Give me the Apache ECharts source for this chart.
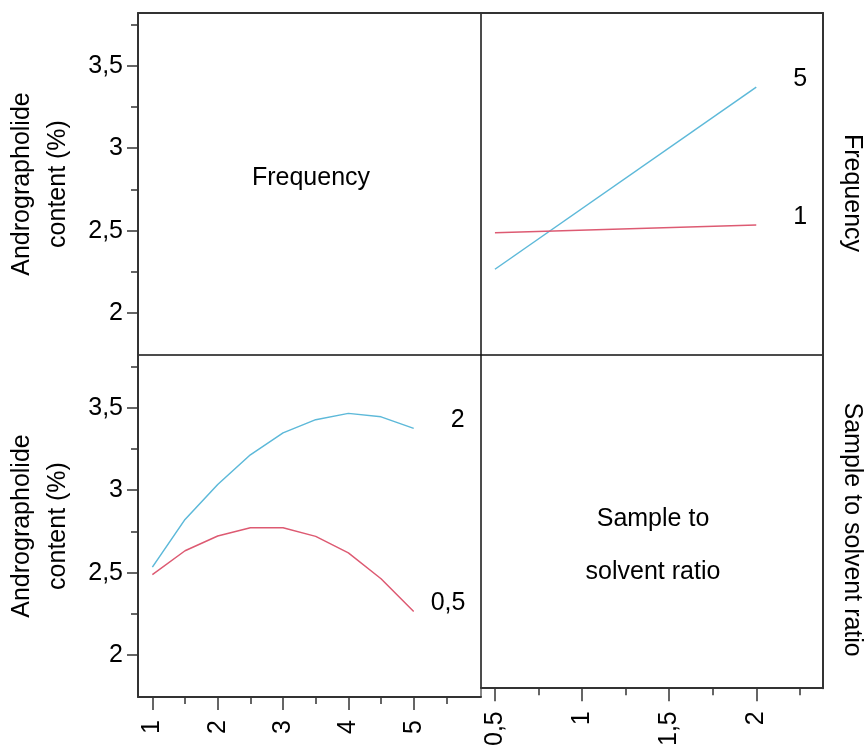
<!DOCTYPE html>
<html>
<head>
<meta charset="utf-8">
<script src="https://cdn.jsdelivr.net/npm/echarts@6/dist/echarts.min.js"></script>
<style>
  html, body { margin: 0; padding: 0; background: #fff; }
  #main { width: 865px; height: 749px; }
</style>
</head>
<body>
<div id="main"></div>
<script>
var myChart = echarts.init(document.getElementById('main'));

// tick values
var freqTicks = [1, 2, 3, 4, 5];
var freqMinorTicks = [1.5, 2.5, 3.5, 4.5, 5.5];
var ratioTicks = [0.5, 1, 1.5, 2];
var ratioMinorTicks = [0.75, 1.25, 1.75, 2.25];
var contentTicks = [2, 2.5, 3, 3.5];
var contentMinorTicks = [2.25, 2.75, 3.25, 3.75];

// top right: content vs sample to solvent ratio, per frequency
var ratioLevels = [0.5, 2];
var freq5Content = [2.266, 3.371];
var freq1Content = [2.488, 2.534];

// bottom left: content vs frequency, per ratio
var freqLevels = [1, 1.5, 2, 2.5, 3, 3.5, 4, 4.5, 5];
var ratio2Content = [2.534, 2.823, 3.035, 3.215, 3.348, 3.428, 3.466, 3.445, 3.375];
var ratio05Content = [2.488, 2.633, 2.722, 2.772, 2.772, 2.720, 2.620, 2.463, 2.265];

var FONT = 'Liberation Sans, Arial, sans-serif';
var BLUE = '#5db9d9';
var RED = '#dd5a72';

var comma = function (v) {
  return String(v).replace('.', ',');
};
var pairs = function (xs, ys) {
  var out = [];
  for (var i = 0; i < xs.length; i++) out.push([xs[i], ys[i]]);
  return out;
};

var yMin = 1.746, yMax = 3.82;
var fMin = 0.78, fMax = 6.03;
var rMin = 0.42, rMax = 2.383;

var frameLine = { show: true, onZero: false, lineStyle: { color: '#333', width: 2 } };

// major tick axis (with labels)
function majorAxis(grid, pos, min, max, ticks, len, rotate, margin, extra) {
  var ax = {
    type: 'value', gridIndex: grid, position: pos, min: min, max: max,
    splitLine: { show: false },
    axisLine: frameLine,
    axisTick: { show: true, customValues: ticks, length: len, lineStyle: { color: '#333', width: 1.5 } },
    axisLabel: {
      show: true, customValues: ticks, formatter: comma, rotate: rotate, margin: margin,
      color: '#000', fontSize: 25, fontFamily: FONT
    }
  };
  for (var k in extra) ax[k] = extra[k];
  return ax;
}
// minor tick axis (ticks only)
function minorAxis(grid, pos, min, max, ticks) {
  return {
    type: 'value', gridIndex: grid, position: pos, min: min, max: max,
    splitLine: { show: false },
    axisLine: { show: false },
    axisTick: { show: true, customValues: ticks, length: 7, lineStyle: { color: '#333', width: 1.5 } },
    axisLabel: { show: false }
  };
}
// plain border axis
function edgeAxis(grid, pos, min, max, extra) {
  var ax = {
    type: 'value', gridIndex: grid, position: pos, min: min, max: max,
    splitLine: { show: false },
    axisLine: frameLine,
    axisTick: { show: false },
    axisLabel: { show: false }
  };
  for (var k in extra) ax[k] = extra[k];
  return ax;
}

var yTitle = {
  name: 'Andrographolide\ncontent (%)',
  nameLocation: 'middle',
  nameRotate: 90,
  nameGap: 62,
  nameTextStyle: { color: '#000', fontSize: 25, fontFamily: FONT, lineHeight: 36 }
};

var gridBox = { show: true, borderColor: '#111', borderWidth: 1 };

option = {
  animation: false,
  backgroundColor: '#fff',
  grid: [
    Object.assign({ left: 138, top: 13, width: 343, height: 342 }, gridBox),
    Object.assign({ left: 481, top: 13, width: 343, height: 342 }, gridBox),
    Object.assign({ left: 138, top: 355, width: 343, height: 342 }, gridBox),
    Object.assign({ left: 481, top: 355, width: 343, height: 342 }, gridBox)
  ],
  xAxis: [
    edgeAxis(0, 'top', fMin, fMax),
    edgeAxis(1, 'top', rMin, rMax),
    majorAxis(2, 'bottom', fMin, fMax, freqTicks, 13, 90, 23, {}),
    minorAxis(2, 'bottom', fMin, fMax, freqMinorTicks),
    majorAxis(3, 'bottom', rMin, rMax, ratioTicks, 13, 90, 23, {}),
    minorAxis(3, 'bottom', rMin, rMax, ratioMinorTicks)
  ],
  yAxis: [
    majorAxis(0, 'left', yMin, yMax, contentTicks, 11, 0, 15, yTitle),
    minorAxis(0, 'left', yMin, yMax, contentMinorTicks),
    edgeAxis(1, 'right', yMin, yMax, {
      name: 'Frequency', nameLocation: 'middle', nameRotate: -90, nameGap: 16,
      nameTextStyle: { color: '#000', fontSize: 25, fontFamily: FONT, padding: [0, 0, 0, 18] }
    }),
    majorAxis(2, 'left', yMin, yMax, contentTicks, 11, 0, 15, yTitle),
    minorAxis(2, 'left', yMin, yMax, contentMinorTicks),
    edgeAxis(3, 'right', yMin, yMax, {
      name: 'Sample to solvent ratio', nameLocation: 'middle', nameRotate: -90, nameGap: 16,
      nameTextStyle: { color: '#000', fontSize: 25, fontFamily: FONT, padding: [0, 0, 0, 16] }
    })
  ],
  series: [
    {
      name: '5', type: 'line', xAxisIndex: 1, yAxisIndex: 2,
      data: pairs(ratioLevels, freq5Content),
      showSymbol: false, lineStyle: { color: BLUE, width: 1.5 },
      endLabel: { show: true, formatter: '5', distance: 0, offset: [37, -8], color: '#000', fontSize: 25, fontFamily: FONT }
    },
    {
      name: '1', type: 'line', xAxisIndex: 1, yAxisIndex: 2,
      data: pairs(ratioLevels, freq1Content),
      showSymbol: false, lineStyle: { color: RED, width: 1.5 },
      endLabel: { show: true, formatter: '1', distance: 0, offset: [37, -8], color: '#000', fontSize: 25, fontFamily: FONT }
    },
    {
      name: '2', type: 'line', xAxisIndex: 2, yAxisIndex: 3,
      data: pairs(freqLevels, ratio2Content),
      showSymbol: false, lineStyle: { color: BLUE, width: 1.5 },
      endLabel: { show: true, formatter: '2', distance: 0, offset: [37, -8], color: '#000', fontSize: 25, fontFamily: FONT }
    },
    {
      name: '0,5', type: 'line', xAxisIndex: 2, yAxisIndex: 3,
      data: pairs(freqLevels, ratio05Content),
      showSymbol: false, lineStyle: { color: RED, width: 1.5 },
      endLabel: { show: true, formatter: '0,5', distance: 0, offset: [17, -8], color: '#000', fontSize: 25, fontFamily: FONT }
    }
  ],
  graphic: [
    {
      type: 'text', x: 311, y: 178,
      style: { text: 'Frequency', fill: '#000', font: '25px ' + FONT, textAlign: 'center', textVerticalAlign: 'middle' }
    },
    {
      type: 'text', x: 653, y: 546,
      style: { text: 'Sample to\nsolvent ratio', fill: '#000', font: '25px ' + FONT, lineHeight: 53, textAlign: 'center', textVerticalAlign: 'middle' }
    }
  ]
};

myChart.setOption(option);
</script>
</body>
</html>
